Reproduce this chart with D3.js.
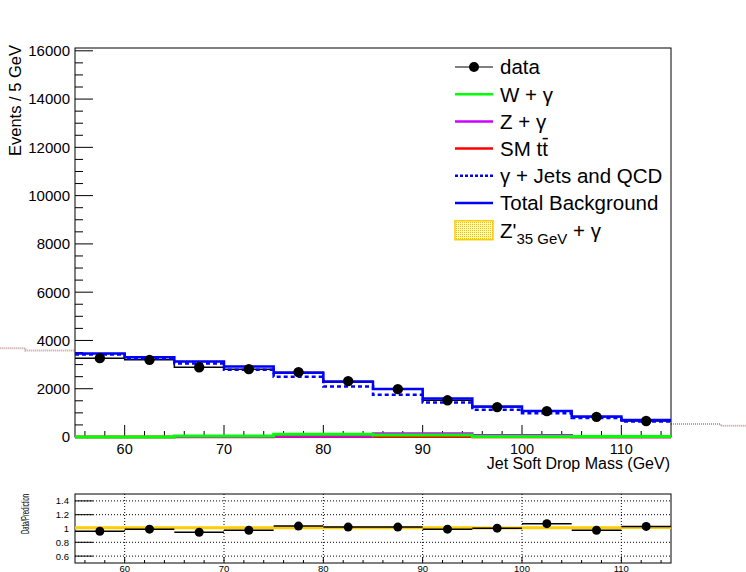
<!DOCTYPE html>
<html>
<head>
<meta charset="utf-8">
<script src="https://cdn.jsdelivr.net/npm/d3@7"></script>
<style>
  body { margin: 0; background: #fff; }
  svg { display: block; font-family: "Liberation Sans", Arial, sans-serif; }
</style>
</head>
<body>
<svg id="chart" width="746" height="572"></svg>
<script>
// bins: lower edges in GeV, all 5 GeV wide
var binLow = [55, 60, 65, 70, 75, 80, 85, 90, 95, 100, 105, 110];
var binWidth = 5;

// main pad, events per bin
var dataVals   = [3266, 3196, 2890, 2811, 2687, 2314, 1983, 1520, 1238, 1070, 835, 665];
var totalBkg   = [3457, 3308, 3126, 2919, 2660, 2290, 1990, 1590, 1265, 1080, 845, 700];
var bkgErr     = [45, 45, 42, 40, 38, 35, 32, 30, 26, 24, 20, 18];
var qcdVals    = [3416, 3250, 3043, 2782, 2492, 2091, 1747, 1428, 1126, 989, 782, 642];
var wGamma     = [5, 5, 45, 45, 110, 110, 85, 85, 20, 20, 20, 20];
var zGamma     = [0, 0, 15, 15, 35, 35, 140, 140, 70, 70, 0, 0];
var ttbarVals  = [0, 0, 5, 5, 15, 15, 10, 10, 0, 0, 0, 0];
var signalVals = [0, 0, 10, 10, 25, 25, 30, 30, 0, 0, 0, 0];

// band leaking outside the frame (bins beyond the axis range)
var outLeftLow  = [45, 50];
var outLeftVal  = [3680, 3581];
var outRightLow = [115, 120];
var outRightVal = [534, 464];

// ratio pad
var ratioVals = [0.96, 0.99, 0.945, 0.975, 1.035, 1.02, 1.02, 0.99, 1.005, 1.07, 0.975, 1.03];
var sigRatio  = [1.012, 1.012, 1.012, 1.012, 1.01, 1.01, 1.012, 1.012, 1.008, 1.012, 1.01, 1.015];

// ticks
var xMajor = [60, 70, 80, 90, 100, 110];
var yMajor = [0, 2000, 4000, 6000, 8000, 10000, 12000, 14000, 16000];
var rMajor = [0.6, 0.8, 1, 1.2, 1.4];

var svg = d3.select('#chart');
var defs = svg.append('defs');

// hatch patterns
var pg = defs.append('pattern').attr('id', 'bandHatch').attr('patternUnits', 'userSpaceOnUse')
  .attr('width', 3).attr('height', 3);
pg.append('rect').attr('width', 1).attr('height', 1).attr('fill', '#8a8a8a');
pg.append('rect').attr('x', 1.5).attr('y', 1.5).attr('width', 1).attr('height', 1).attr('fill', '#b0b0b0');

var ps = defs.append('pattern').attr('id', 'sigHatch').attr('patternUnits', 'userSpaceOnUse')
  .attr('width', 2).attr('height', 2);
ps.append('rect').attr('width', 2).attr('height', 2).attr('fill', '#fff6c8');
ps.append('rect').attr('width', 1).attr('height', 1).attr('fill', '#e6c21a');

// ---- main pad ----
var x = d3.scaleLinear().domain([55, 115]).range([75, 671]);
var y = d3.scaleLinear().domain([0, 16116]).range([437, 48]);

function stepPath(vals, xs, ys, lows) {
  lows = lows || binLow;
  var pts = lows.map(function (b, i) { return [b, vals[i]]; });
  pts.push([lows[lows.length - 1] + binWidth, vals[vals.length - 1]]);
  return d3.line().x(function (d) { return xs(d[0]); }).y(function (d) { return ys(d[1]); })
    .curve(d3.curveStepAfter)(pts);
}

// outside band (dotted, not clipped)
svg.append('path').attr('d', stepPath(outLeftVal, x, y, outLeftLow))
  .attr('fill', 'none').attr('stroke', '#c09c98').attr('stroke-width', 2).attr('stroke-dasharray', '1,1');
svg.append('path').attr('d', stepPath(outRightVal, x, y, outRightLow))
  .attr('fill', 'none').attr('stroke', '#c09c98').attr('stroke-width', 2).attr('stroke-dasharray', '1,1');

// frame
svg.append('rect').attr('x', 75).attr('y', 48).attr('width', 596).attr('height', 389)
  .attr('fill', 'none').attr('stroke', '#000').attr('stroke-width', 1);

// y ticks
var yAx = svg.append('g');
d3.range(0, 16001, 500).forEach(function (v) {
  var major = v % 2000 === 0;
  yAx.append('line').attr('x1', 75).attr('x2', major ? 93 : 83)
    .attr('y1', y(v)).attr('y2', y(v)).attr('stroke', '#000');
});
yAx.selectAll('text').data(yMajor).enter().append('text')
  .attr('x', 70).attr('y', function (d) { return y(d); }).attr('dy', '0.36em')
  .attr('text-anchor', 'end').attr('font-size', 15).text(function (d) { return d; });

// x ticks
var xAx = svg.append('g');
d3.range(56, 115, 2).forEach(function (v) {
  var major = v % 10 === 0;
  xAx.append('line').attr('x1', x(v)).attr('x2', x(v))
    .attr('y1', 437).attr('y2', major ? 425 : 431).attr('stroke', '#000');
});
xAx.selectAll('text').data(xMajor).enter().append('text')
  .attr('x', function (d) { return x(d); }).attr('y', 453.5)
  .attr('text-anchor', 'middle').attr('font-size', 14.5).text(function (d) { return d; });

svg.append('text').attr('x', 670).attr('y', 469).attr('text-anchor', 'end')
  .attr('font-size', 16).text('Jet Soft Drop Mass (GeV)');
svg.append('text').attr('transform', 'translate(21,45) rotate(-90)').attr('text-anchor', 'end')
  .attr('font-size', 16.5).text('Events / 5 GeV');

// uncertainty band on total background
svg.append('g').selectAll('rect').data(binLow).enter().append('rect')
  .attr('x', function (d) { return x(d); })
  .attr('width', x(binWidth) - x(0))
  .attr('y', function (d, i) { return y(totalBkg[i] + bkgErr[i]); })
  .attr('height', function (d, i) { return y(totalBkg[i] - bkgErr[i]) - y(totalBkg[i] + bkgErr[i]); })
  .attr('fill', 'url(#bandHatch)');

// histograms
function hist(vals, color, width, dash) {
  var p = svg.append('path').attr('d', stepPath(vals, x, y))
    .attr('fill', 'none').attr('stroke', color).attr('stroke-width', width);
  if (dash) p.attr('stroke-dasharray', dash);
}
hist(signalVals, '#ffcc00', 2.5);
hist(ttbarVals, '#ff0000', 2.5);
hist(zGamma, '#cc00ff', 2.5);
hist(wGamma, '#00ff00', 3);
hist(dataVals, '#000', 1.5);
hist(totalBkg, '#0000ff', 2.5);
hist(qcdVals, '#0000ff', 2.5, '4,3');

// data points
var pts = svg.append('g');
binLow.forEach(function (b, i) {
  var cx = x(b + binWidth / 2), e = Math.sqrt(dataVals[i]);
  pts.append('line').attr('x1', cx).attr('x2', cx)
    .attr('y1', y(dataVals[i] - e)).attr('y2', y(dataVals[i] + e)).attr('stroke', '#000');
  pts.append('circle').attr('cx', cx).attr('cy', y(dataVals[i])).attr('r', 5.2).attr('fill', '#000');
});

// legend
var leg = svg.append('g').attr('font-size', 20.5);
var legY0 = 67, legDy = 27.2;
function legLine(i, color, dash) {
  var l = leg.append('line').attr('x1', 455).attr('x2', 493)
    .attr('y1', legY0 + i * legDy).attr('y2', legY0 + i * legDy)
    .attr('stroke', color).attr('stroke-width', color === '#000' ? 1 : 2.5);
  if (dash) l.attr('stroke-dasharray', dash);
}
function legText(i) {
  return leg.append('text').attr('x', 500).attr('y', legY0 + i * legDy).attr('dy', '0.36em');
}
legLine(0, '#000');
leg.append('circle').attr('cx', 474).attr('cy', legY0).attr('r', 5).attr('fill', '#000');
legText(0).text('data');
legLine(1, '#00ff00');
legText(1).text('W + \u03b3');
legLine(2, '#cc00ff');
legText(2).text('Z + \u03b3');
legLine(3, '#ff0000');
var tt = legText(3).text('SM tt');
var ttNode = tt.node();
var s4 = ttNode.getStartPositionOfChar(4), e4 = ttNode.getEndPositionOfChar(4);
leg.append('line').attr('x1', s4.x + 0.5).attr('x2', e4.x)
  .attr('y1', legY0 + 3 * legDy - 10).attr('y2', legY0 + 3 * legDy - 10)
  .attr('stroke', '#000').attr('stroke-width', 1.5);
legLine(4, '#0000ff', '3,2');
legText(4).text('\u03b3 + Jets and QCD');
legLine(5, '#0000ff');
legText(5).text('Total Background');
leg.append('rect').attr('x', 455).attr('y', legY0 + 6 * legDy - 9.5).attr('width', 38).attr('height', 19)
  .attr('fill', 'url(#sigHatch)').attr('stroke', '#ffcc00').attr('stroke-width', 1.5);
var zt = legText(6);
zt.append('tspan').text("Z'");
zt.append('tspan').attr('font-size', 15).attr('dy', 6).text('35 GeV');
zt.append('tspan').attr('dy', -6).text(' + \u03b3');

// ---- ratio pad ----
var rx = x;
var ry = d3.scaleLinear().domain([0.5, 1.5]).range([563, 494]);

var grid = svg.append('g').attr('stroke', '#000').attr('stroke-dasharray', '1,2');
xMajor.forEach(function (v) {
  grid.append('line').attr('x1', rx(v)).attr('x2', rx(v)).attr('y1', 494).attr('y2', 563);
});
rMajor.forEach(function (v) {
  grid.append('line').attr('x1', 75).attr('x2', 671).attr('y1', ry(v)).attr('y2', ry(v));
});

svg.append('rect').attr('x', 75).attr('y', 494).attr('width', 596).attr('height', 69)
  .attr('fill', 'none').attr('stroke', '#000');

var rAx = svg.append('g');
rMajor.forEach(function (v) {
  rAx.append('line').attr('x1', 75).attr('x2', 93).attr('y1', ry(v)).attr('y2', ry(v)).attr('stroke', '#000');
});
rAx.selectAll('text').data(rMajor).enter().append('text')
  .attr('x', 69).attr('y', function (d) { return ry(d); }).attr('dy', '0.36em')
  .attr('text-anchor', 'end').attr('font-size', 9.5).text(function (d) { return d; });
d3.range(56, 115, 2).forEach(function (v) {
  var major = v % 10 === 0;
  rAx.append('line').attr('x1', rx(v)).attr('x2', rx(v))
    .attr('y1', 563).attr('y2', major ? 557 : 560).attr('stroke', '#000');
});
rAx.selectAll('text.xl').data(xMajor).enter().append('text').attr('class', 'xl')
  .attr('x', function (d) { return rx(d); }).attr('y', 571.5)
  .attr('text-anchor', 'middle').attr('font-size', 9.5).text(function (d) { return d; });

svg.append('text').attr('transform', 'translate(29,494) rotate(-90)').attr('text-anchor', 'end')
  .attr('font-size', 11).attr('textLength', 40).attr('lengthAdjust', 'spacingAndGlyphs')
  .text('Data/Prediction');

// signal ratio line
svg.append('path').attr('d', stepPath(sigRatio, rx, ry))
  .attr('fill', 'none').attr('stroke', '#ffcc00').attr('stroke-width', 3);

var rp = svg.append('g');
binLow.forEach(function (b, i) {
  rp.append('line').attr('x1', rx(b)).attr('x2', rx(b + binWidth))
    .attr('y1', ry(ratioVals[i])).attr('y2', ry(ratioVals[i])).attr('stroke', '#000').attr('stroke-width', 1.5);
  rp.append('circle').attr('cx', rx(b + binWidth / 2)).attr('cy', ry(ratioVals[i])).attr('r', 4.5).attr('fill', '#000');
});
</script>
</body>
</html>
